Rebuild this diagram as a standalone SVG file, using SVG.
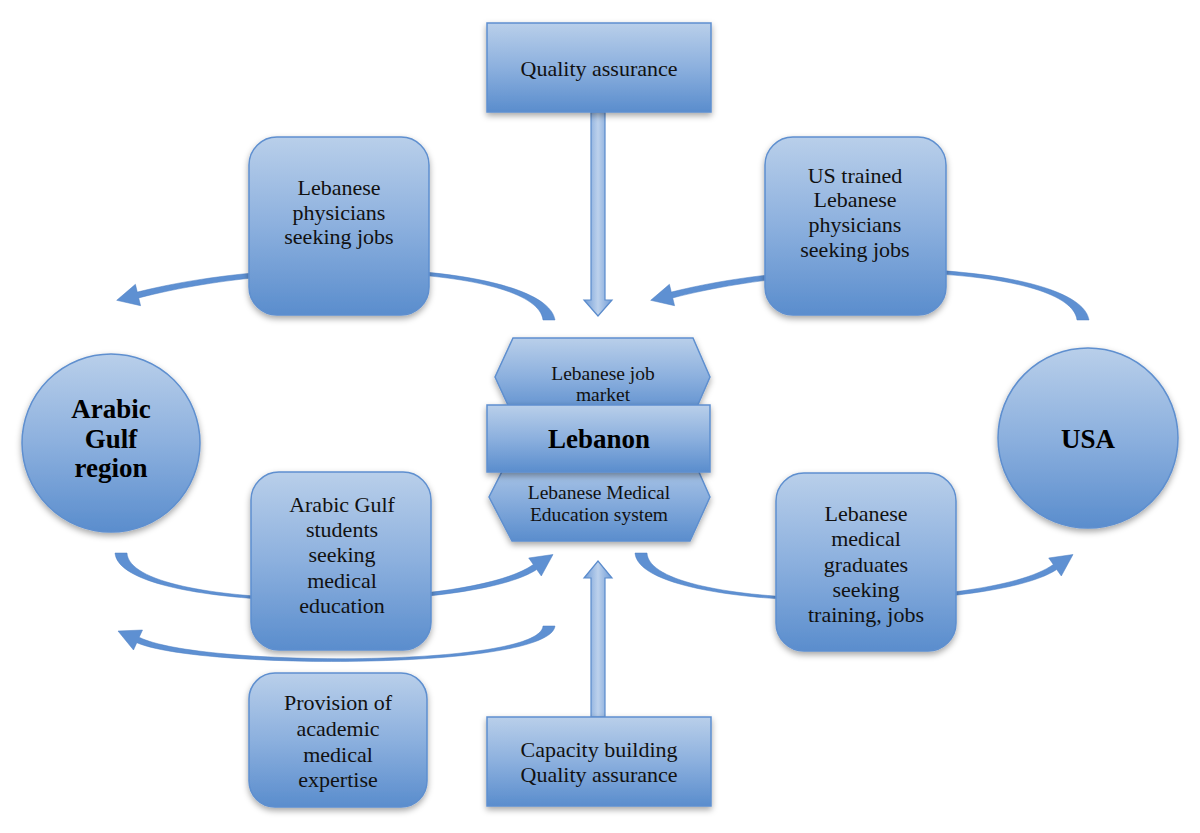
<svg xmlns="http://www.w3.org/2000/svg" width="1200" height="833" viewBox="0 0 1200 833">
<defs>
<linearGradient id="gFill" x1="0" y1="0" x2="0" y2="1">
<stop offset="0" stop-color="#b9cfea"/>
<stop offset="0.5" stop-color="#8cb0de"/>
<stop offset="1" stop-color="#5a8dcd"/>
</linearGradient>
<linearGradient id="gShaft" x1="0" y1="0" x2="1" y2="0">
<stop offset="0" stop-color="#6f9bd6"/>
<stop offset="0.5" stop-color="#bcd1ec"/>
<stop offset="1" stop-color="#6f9bd6"/>
</linearGradient>
<filter id="shadow" x="-10%" y="-10%" width="120%" height="130%">
<feDropShadow dx="0" dy="3" stdDeviation="3" flood-color="#000" flood-opacity="0.35"/>
</filter>
</defs>
<style>
.shape{fill:url(#gFill);stroke:#5e8fcf;stroke-width:1.5;filter:url(#shadow)}
.curve{fill:#5e90d2;stroke:#4d7fc2;stroke-width:0.5}
.straight{fill:url(#gShaft);stroke:#5a8bcc;stroke-width:1.2}
.t{font-family:"Liberation Serif","Times New Roman",serif;font-size:22px;fill:#111;text-anchor:middle}
.th{font-family:"Liberation Serif","Times New Roman",serif;font-size:19.5px;fill:#111;text-anchor:middle}
.tb{font-family:"Liberation Serif","Times New Roman",serif;font-size:27px;font-weight:bold;fill:#000;text-anchor:middle}
</style>

<g id="connectors">
<path id="arrow-lebanon-to-gulf-physicians" class="curve" d="M555,320 C546,266 300,251 137.3,292.1 L135.4,284.3 L116.7,300.3 L140.6,305.7 L138.7,297.9 C300,256 537,268 543,320 Z"/>
<path id="arrow-usa-to-lebanon-physicians" class="curve" transform="translate(534,0)" d="M555,320 C546,266 300,251 137.3,292.1 L135.4,284.3 L116.7,300.3 L140.6,305.7 L138.7,297.9 C300,256 537,268 543,320 Z"/>
<path id="arrow-gulf-to-lebanon-students" class="curve" d="M115,553 C120,614 470,614 536.7,569.5 L541.3,576 L553,554.5 L528.7,558 L533.3,564.5 C468,611.5 130,611.5 127,553 Z"/>
<path id="arrow-lebanon-to-usa-graduates" class="curve" transform="translate(520,0)" d="M115,553 C120,614 470,614 536.7,569.5 L541.3,576 L553,554.5 L528.7,558 L533.3,564.5 C468,611.5 130,611.5 127,553 Z"/>
<path id="arrow-lebanon-to-gulf-expertise" class="curve" d="M555,626 C550,670 200,670 136.8,642.7 L133.5,650 L118,631 L142.5,630 L139.2,637.3 C200,667.5 540,667.5 543,626 Z"/>
<polygon id="arrow-quality-down" class="straight" points="591,112 605,112 605,300 612,300 598,316 584,300 591,300"/>
<polygon id="arrow-capacity-up" class="straight" points="591,717 605,717 605,578 612,578 598,561 584,578 591,578"/>
</g>

<g id="node-quality-top">
<rect class="shape" x="487" y="23" width="224" height="89"/>
<text class="t" x="599" y="76">Quality assurance</text>
</g>

<g id="node-lebanese-physicians">
<rect class="shape" x="249" y="137" width="180" height="178" rx="28" ry="28"/>
<text class="t" x="339" y="195">Lebanese</text>
<text class="t" x="339" y="220">physicians</text>
<text class="t" x="339" y="244">seeking jobs</text>
</g>

<g id="node-us-trained">
<rect class="shape" x="765" y="137" width="181" height="178" rx="28" ry="28"/>
<text class="t" x="855" y="183">US trained</text>
<text class="t" x="855" y="207">Lebanese</text>
<text class="t" x="855" y="232">physicians</text>
<text class="t" x="855" y="257">seeking jobs</text>
</g>

<g id="node-gulf">
<circle class="shape" cx="111" cy="443" r="89"/>
<text class="tb" x="111" y="418">Arabic</text>
<text class="tb" x="111" y="448">Gulf</text>
<text class="tb" x="111" y="477">region</text>
</g>

<g id="node-usa">
<circle class="shape" cx="1088" cy="438" r="90"/>
<text class="tb" x="1088" y="448">USA</text>
</g>

<g id="node-job-market">
<polygon class="shape" points="513,338 693,338 710,377 693,416 513,416 495,377"/>
<text class="th" x="603" y="380">Lebanese job</text>
<text class="th" x="603" y="401">market</text>
</g>

<g id="node-med-education">
<polygon class="shape" points="512,452 690,452 710,497 690,541 512,541 489,497"/>
<text class="th" x="599" y="499">Lebanese Medical</text>
<text class="th" x="599" y="521">Education system</text>
</g>

<g id="node-lebanon">
<rect class="shape" x="487" y="405" width="223" height="67"/>
<text class="tb" x="599" y="448">Lebanon</text>
</g>

<g id="node-gulf-students">
<rect class="shape" x="251" y="472" width="180" height="178" rx="28" ry="28"/>
<text class="t" x="342" y="512">Arabic Gulf</text>
<text class="t" x="342" y="537">students</text>
<text class="t" x="342" y="562">seeking</text>
<text class="t" x="342" y="588">medical</text>
<text class="t" x="342" y="613">education</text>
</g>

<g id="node-lebanese-graduates">
<rect class="shape" x="776" y="473" width="180" height="178" rx="28" ry="28"/>
<text class="t" x="866" y="521">Lebanese</text>
<text class="t" x="866" y="546">medical</text>
<text class="t" x="866" y="572">graduates</text>
<text class="t" x="866" y="597">seeking</text>
<text class="t" x="866" y="622">training, jobs</text>
</g>

<g id="node-provision">
<rect class="shape" x="249" y="673" width="178" height="134" rx="26" ry="26"/>
<text class="t" x="338" y="710">Provision of</text>
<text class="t" x="338" y="736">academic</text>
<text class="t" x="338" y="762">medical</text>
<text class="t" x="338" y="787">expertise</text>
</g>

<g id="node-capacity">
<rect class="shape" x="487" y="717" width="224" height="89"/>
<text class="t" x="599" y="757">Capacity building</text>
<text class="t" x="599" y="782">Quality assurance</text>
</g>
</svg>
